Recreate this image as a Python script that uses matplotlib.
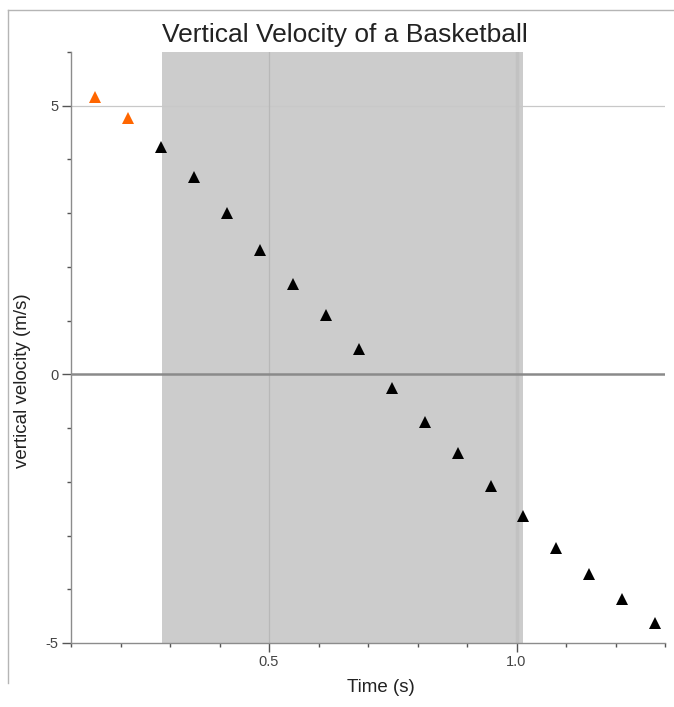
import numpy as np
import matplotlib
matplotlib.use("Agg")
import matplotlib.pyplot as plt
from matplotlib.lines import Line2D

plt.rcParams['font.family'] = ['Liberation Sans', 'DejaVu Sans']

# data
time_unselected = [0.148, 0.215]
vel_unselected = [5.17, 4.78]

time_selected = [0.282, 0.348, 0.415, 0.481, 0.548, 0.615, 0.681, 0.748,
                 0.815, 0.881, 0.948, 1.013, 1.079, 1.146, 1.214, 1.280]
vel_selected = [4.23, 3.68, 3.01, 2.31, 1.68, 1.10, 0.48, -0.26,
                -0.89, -1.47, -2.07, -2.63, -3.23, -3.72, -4.18, -4.63]

region_start = 0.283
region_end = 1.013

x_major = [0.5, 1.0]
x_minor = [0.1, 0.2, 0.3, 0.4, 0.6, 0.7, 0.8, 0.9, 1.1, 1.2, 1.3]
y_major = [-5, 0, 5]
y_minor = [-4, -3, -2, -1, 1, 2, 3, 4, 6]

fig = plt.figure(figsize=(6.74, 7.07), dpi=100)
ax = fig.add_axes([71 / 674, 1 - 643 / 707, (665 - 71) / 674, (643 - 52) / 707])

ax.set_xlim(0.1, 1.3)
ax.set_ylim(-5, 6)

# selected region
ax.axvspan(region_start, region_end, color='#cccccc', zorder=0, lw=0)

# grid lines
ax.axhline(5, color='#c8c8c8', lw=0.9, zorder=1)
ax.axvline(0.5, color='#b8b8b8', lw=0.9, zorder=1)
ax.axvline(1.0, color='#c2c2c2', lw=2.5, zorder=1)
ax.axhline(0, color='#8a8a8a', lw=1.8, zorder=2)

ax.plot(time_unselected, vel_unselected, '^', color='#ff6600', ms=8, mew=0, zorder=3)
ax.plot(time_selected, vel_selected, '^', color='black', ms=8, mew=0, zorder=3)

ax.spines['top'].set_visible(False)
ax.spines['right'].set_visible(False)
for s in ['left', 'bottom']:
    ax.spines[s].set_color('#8c8c8c')
    ax.spines[s].set_linewidth(1.0)

ax.set_xticks(x_major)
ax.set_xticklabels(['0.5', '1.0'])
ax.set_xticks(x_minor, minor=True)
ax.set_yticks(y_major)
ax.set_yticklabels(['-5', '0', '5'])
ax.set_yticks(y_minor, minor=True)
ax.tick_params(which='major', length=6.5, width=1.0, color='#555555',
               labelsize=10.5, labelcolor='#444444', pad=2.5)
ax.tick_params(which='minor', length=3, width=1.0, color='#555555')

fig.text(345 / 674, 1 - 42 / 707, 'Vertical Velocity of a Basketball',
         ha='center', va='baseline', fontsize=19, color='#222222')
fig.text(381 / 674, 1 - 692 / 707, 'Time (s)', ha='center', va='baseline',
         fontsize=13.5, color='#222222')
fig.text(23 / 674, 1 - 381 / 707, 'vertical velocity (m/s)', rotation=90,
         ha='center', va='center', fontsize=13.5, color='#222222',
         bbox=dict(facecolor='white', edgecolor='none', pad=2), zorder=5)

# outer frame (top and left)
fig.add_artist(Line2D([8 / 674, 1.0], [1 - 10 / 707, 1 - 10 / 707],
                      transform=fig.transFigure, color='#b5b5b5', lw=1.0, zorder=0))
fig.add_artist(Line2D([8 / 674, 8 / 674], [1 - 10 / 707, 1 - 683 / 707],
                      transform=fig.transFigure, color='#b5b5b5', lw=1.0, zorder=0))

fig.savefig('out.png', dpi=100)
